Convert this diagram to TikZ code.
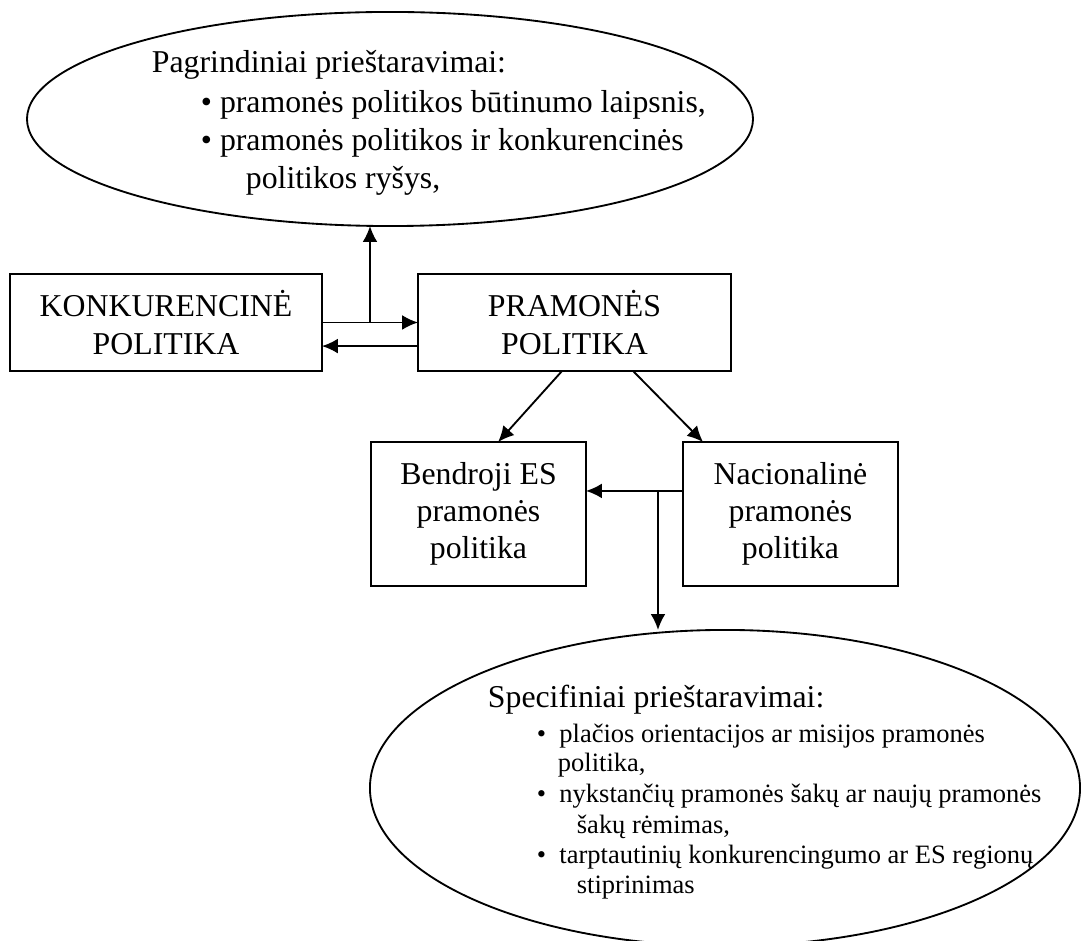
\documentclass[tikz,border=0pt]{standalone}
\usepackage{fontspec}
\setmainfont{Liberation Serif}
\usepackage{tikz}
\usetikzlibrary{arrows.meta,shapes.geometric}
\tikzstyle{box}=[rectangle,draw=black,inner sep=0pt,outer sep=0pt,align=center,font=\fontsize{12}{14}\selectfont]
\tikzstyle{oval}=[ellipse,draw=black,inner sep=0pt,outer sep=0pt]
\tikzstyle{bigline}=[anchor=base west,inner sep=0pt,font=\fontsize{12}{14}\selectfont]
\tikzstyle{smallline}=[anchor=base west,inner sep=0pt,font=\fontsize{10}{12}\selectfont]

\begin{document}
\begin{tikzpicture}[x=0.3774pt,y=-0.3774pt,->,>={Latex[length=6pt,width=5.6pt]},
                    line width=0.7pt]
  \useasboundingbox (0,0) rectangle (1082,941);
  \clip (0,0) rectangle (1082,941);

  \node[oval,minimum width=274pt,minimum height=80.8pt] (mainell) at (390,119) {};
  \node[bigline] (m0) at (151,73)  {Pagrindiniai prieštaravimai:};
  \node[bigline] (m1) at (200,113) {\textbullet{} pramonės politikos būtinumo laipsnis,};
  \node[bigline] (m2) at (200,151) {\textbullet{} pramonės politikos ir konkurencinės};
  \node[bigline] (m3) at (245,189) {politikos ryšys,};

  \node[box,minimum width=117.7pt,minimum height=36.6pt] (konk) at (166,322.5) {KONKURENCINĖ\\POLITIKA};
  \node[box,minimum width=118.1pt,minimum height=36.6pt] (pram) at (574.5,322.5) {PRAMONĖS\\POLITIKA};
  \node[box,minimum width=81.1pt,minimum height=54.3pt] (bendr) at (478.5,514) {Bendroji ES\\pramonės\\politika};
  \node[box,minimum width=81.1pt,minimum height=54.3pt] (nac) at (790.5,514) {Nacionalinė\\pramonės\\politika};

  \node[oval,minimum width=268pt,minimum height=119.3pt] (specell) at (725,788) {};
  \node[bigline] (s0) at (487,708) {Specifiniai prieštaravimai:};
  \node[smallline] (s1) at (536,743) {\textbullet\enspace plačios orientacijos ar misijos pramonės};
  \node[smallline] (s2) at (557,772) {politika,};
  \node[smallline] (s3) at (536,803) {\textbullet\enspace nykstančių pramonės šakų ar naujų pramonės};
  \node[smallline] (s4) at (576,834) {šakų rėmimas,};
  \node[smallline] (s5) at (536,864) {\textbullet\enspace tarptautinių konkurencingumo ar ES regionų};
  \node[smallline] (s6) at (576,894) {stiprinimas};

  % links between the two policies
  \draw (konk.east) -- (pram.west);
  \draw ([yshift=-8.9pt]pram.west) -- ([yshift=-8.9pt]konk.east);
  \coordinate (up) at (370,322.5);
  \draw (up) -- (up |- mainell.south);

  % industrial policy levels
  \draw ([xshift=-4.7pt]pram.south) -- ([xshift=7.4pt]bendr.north);
  \draw ([xshift=22.1pt]pram.south) -- ([xshift=-33pt]nac.north);
  \coordinate (nw) at ([yshift=8.7pt]nac.west);
  \draw (nw) -- (nw -| bendr.east);
  \coordinate (split) at (658,491);
  \draw (split) -- (split |- specell.north);
\end{tikzpicture}
\end{document}
